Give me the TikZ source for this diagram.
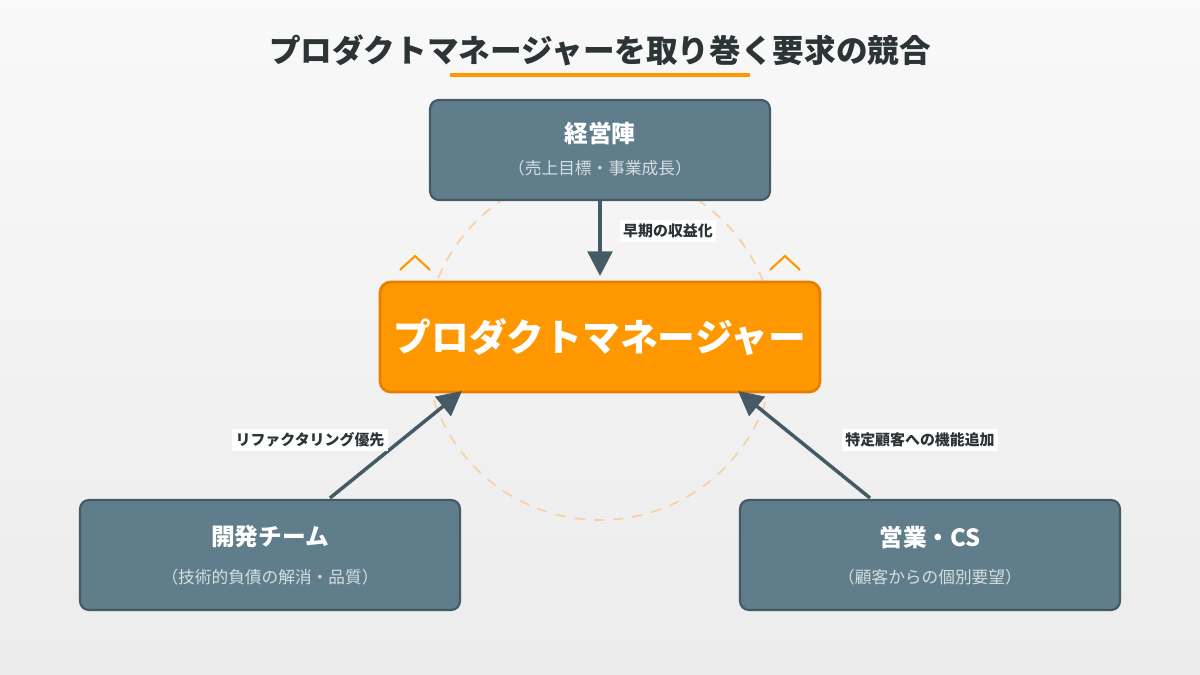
\documentclass[tikz,border=0pt]{standalone}
\usepackage{fontspec}
\setmainfont{Noto Sans CJK JP}
\usetikzlibrary{positioning,arrows.meta}
\definecolor{slatebox}{HTML}{607D8B}
\definecolor{slateedge}{HTML}{455A64}
\definecolor{pmorange}{HTML}{FF9800}
\definecolor{pmedge}{HTML}{E67E00}
\definecolor{titleink}{HTML}{2D3436}
\definecolor{subink}{HTML}{D5DDE1}
\definecolor{ringink}{HTML}{F6D3A4}
\begin{document}
\begin{tikzpicture}
  [x=0.02cm, y=-0.02cm,
   party/.style={draw=slateedge, line width=1.2pt, fill=slatebox, rounded corners=5pt,
                 minimum width=7.6cm, minimum height=2.2cm, inner sep=0},
   headline/.style={text=white, font=\bfseries\fontsize{13.5}{15}\selectfont},
   subline/.style={text=subink, font=\fontsize{9.5}{11}\selectfont},
   push/.style={draw=slateedge, line width=2pt, -{Triangle[length=14pt, width=14pt]}},
   tag/.style={fill=white, text=titleink, inner sep=2pt, font=\bfseries\fontsize{8.5}{10}\selectfont}]
  \shade[top color=gray!5, bottom color=gray!15] (0,0) rectangle (1200,675);
  \useasboundingbox (0,0) rectangle (1200,675);

  % title
  \node[text=titleink, font=\bfseries\fontsize{18}{20}\selectfont] (title) at (600,50)
    {プロダクトマネージャーを取り巻く要求の競合};
  \draw[pmorange, line width=2.2pt] (450,75) -- (750,75);

  % ring
  \draw[ringink, dashed, dash pattern=on 6pt off 5pt, line width=1pt] (600,345) circle [radius=175];
  \draw[pmorange, line width=1.2pt] (400,270) -- (415,256) -- (430,270);
  \draw[pmorange, line width=1.2pt] (770,270) -- (785,256) -- (800,270);

  % stakeholders
  \node[party, minimum width=6.8cm, minimum height=2cm] (exec) at (600,150) {};
  \node[headline] at (600,133) {経営陣};
  \node[subline] at (600,168) {（売上目標・事業成長）};

  \node[party] (dev) at (270,555) {};
  \node[headline] at (270,537) {開発チーム};
  \node[subline] at (270,577) {（技術的負債の解消・品質）};

  \node[party] (sales) at (930,555) {};
  \node[headline] at (930,537) {営業・CS};
  \node[subline] at (930,577) {（顧客からの個別要望）};

  % product manager
  \node[draw=pmedge, line width=1.5pt, fill=pmorange, rounded corners=6pt,
        minimum width=8.8cm, minimum height=2.2cm, text=white,
        font=\bfseries\fontsize{21.5}{24}\selectfont] (pm) at (600,337) {プロダクトマネージャー};

  % demands
  \coordinate (pmtop) at (600,276);
  \coordinate (pmleft) at (462,391);
  \coordinate (pmright) at (738,391);
  \draw[push] (exec.south) -- (pmtop);
  \draw[push] (330,498) -- (pmleft);
  \draw[push] (870,498) -- (pmright);
  \node[tag] (q1) at (668,231) {早期の収益化};
  \node[tag] (q2) at (310,440) {リファクタリング優先};
  \node[tag] (q3) at (920,440) {特定顧客への機能追加};
\end{tikzpicture}
\end{document}
